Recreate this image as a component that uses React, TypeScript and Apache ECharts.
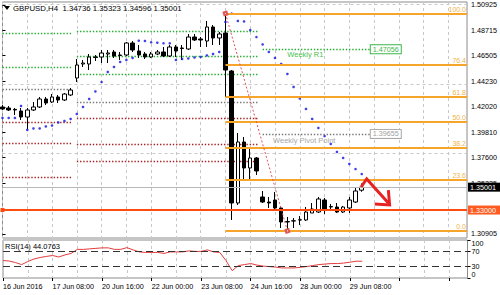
import React, { useEffect, useRef } from 'react';
import * as echarts from 'echarts';

const FONT = 'Liberation Sans, Arial, sans-serif';

const tradingDays = ['16 Jun', '17 Jun', '20 Jun', '21 Jun', '22 Jun', '23 Jun', '24 Jun', '27 Jun', '28 Jun', '29 Jun'];
const sessionHours = ['00:00', '04:00', '08:00', '12:00', '16:00', '20:00'];
const firstLabel = '16 Jun 2016';
const dataBars = 59;
const totalSlots = 76;

// [open, close, low, high]
const candles: number[][] = [
  [1.42008, 1.41833, 1.41746, 1.42183],
  [1.4192, 1.41746, 1.41658, 1.42095],
  [1.418, 1.41746, 1.41308, 1.4192],
  [1.41658, 1.41133, 1.40871, 1.4192],
  [1.41133, 1.41746, 1.40084, 1.4192],
  [1.41746, 1.42008, 1.41658, 1.42445],
  [1.42008, 1.42707, 1.4192, 1.42882],
  [1.42707, 1.42357, 1.42183, 1.42882],
  [1.42445, 1.42882, 1.42357, 1.43144],
  [1.42882, 1.4262, 1.42357, 1.43057],
  [1.4262, 1.43144, 1.42532, 1.43232],
  [1.43057, 1.43494, 1.42969, 1.43669],
  [1.44543, 1.4568, 1.44193, 1.46204],
  [1.45767, 1.45854, 1.45505, 1.46117],
  [1.45767, 1.46379, 1.45242, 1.46641],
  [1.46379, 1.46335, 1.46029, 1.46554],
  [1.46379, 1.46729, 1.45854, 1.46991],
  [1.46641, 1.46729, 1.45854, 1.46991],
  [1.46816, 1.46466, 1.46292, 1.46991],
  [1.46554, 1.4651, 1.46117, 1.46816],
  [1.46554, 1.47603, 1.46466, 1.4769],
  [1.47603, 1.46991, 1.46816, 1.47778],
  [1.46903, 1.46554, 1.46292, 1.47428],
  [1.46641, 1.46379, 1.46204, 1.46816],
  [1.46379, 1.46641, 1.46292, 1.46816],
  [1.46641, 1.46816, 1.46554, 1.46991],
  [1.46816, 1.46466, 1.46379, 1.47253],
  [1.46466, 1.47253, 1.46379, 1.47428],
  [1.47253, 1.46903, 1.46379, 1.47428],
  [1.47166, 1.47122, 1.46117, 1.47428],
  [1.47078, 1.48127, 1.46991, 1.4839],
  [1.48127, 1.47865, 1.47778, 1.4839],
  [1.47953, 1.47865, 1.47253, 1.48127],
  [1.47778, 1.49002, 1.47253, 1.49526],
  [1.49002, 1.4804, 1.47428, 1.49177],
  [1.4804, 1.4839, 1.47428, 1.48565],
  [1.48477, 1.45242, 1.42882, 1.5018],
  [1.45155, 1.33615, 1.32129, 1.45242],
  [1.33615, 1.38948, 1.3344, 1.39735],
  [1.38948, 1.36675, 1.35626, 1.39385],
  [1.36675, 1.37549, 1.35538, 1.38336],
  [1.37549, 1.36413, 1.36063, 1.37637],
  [1.3414, 1.33702, 1.33615, 1.34664],
  [1.33702, 1.33615, 1.33178, 1.3414],
  [1.33877, 1.33178, 1.33003, 1.34577],
  [1.33178, 1.31954, 1.31429, 1.33353],
  [1.31954, 1.31998, 1.3118, 1.32391],
  [1.32041, 1.3206, 1.31429, 1.32304],
  [1.32129, 1.3215, 1.31692, 1.32479],
  [1.32129, 1.32828, 1.32041, 1.33265],
  [1.32741, 1.3309, 1.32741, 1.33615],
  [1.32828, 1.33965, 1.32741, 1.3414],
  [1.33877, 1.3309, 1.32653, 1.34052],
  [1.33265, 1.33309, 1.33003, 1.33528],
  [1.33265, 1.32828, 1.32741, 1.33615],
  [1.32828, 1.33265, 1.32741, 1.33353],
  [1.33178, 1.33877, 1.32741, 1.3414],
  [1.33702, 1.34664, 1.33615, 1.34926],
  [1.34736, 1.35001, 1.34596, 1.35323],
];

const psar: number[] = [
  1.41046, 1.41046, 1.41046, 1.42095, 1.39997, 1.40128, 1.40128, 1.40303, 1.4039, 1.40653,
  1.40784, 1.40959, 1.41396, 1.42008, 1.42707, 1.43363, 1.44193, 1.45068, 1.45505, 1.45942,
  1.46117, 1.46292, 1.47804, 1.47778, 1.47664, 1.47629, 1.47577, 1.47577, 1.46117, 1.46204,
  1.46248, 1.46335, 1.46379, 1.4651, 1.46641, 1.46816, 1.49439, 1.5018, 1.4953, 1.49483,
  1.48739, 1.48127, 1.47472, 1.46816, 1.46292, 1.45767, 1.44893, 1.43756, 1.42751, 1.41833,
  1.40959, 1.40172, 1.39472, 1.38773, 1.38074, 1.37549, 1.37025, 1.36587, 1.3615,
];

const rsi: number[] = [
  46, 44.7, 40.7, 35.3, 43.3, 50, 54, 56.7, 59.3, 55.3, 60.7, 64.7,
  75.3, 75.3, 76.7, 78, 79.3, 79.3, 75.3, 75.3, 79.9, 74, 68.7, 67.3,
  67.3, 67.3, 64.7, 68.7, 68.7, 68.7, 71.3, 70, 70, 74, 68.7, 67.3,
  46, 19.3, 32.7, 35.3, 38, 34, 31.3, 30, 28.7, 26.5, 26.5, 26.5,
  28.1, 30, 32.7, 35.3, 36.7, 38, 38, 39.3, 41.5, 44.2, 44.0763,
];

const priceTicks = [1.50925, 1.48715, 1.46505, 1.4423, 1.4202, 1.3981, 1.376, 1.35335, 1.30905];
const priceGridLines = [1.50925, 1.4423, 1.376];
const priceMin = 1.30555;
const priceMax = 1.51187;
const rsiTicks = [0, 30, 70, 100];
const rsiLevels = [70, 30];

const fibHigh = 1.5018;
const fibLow = 1.3118;
const fibStartBar = 36;
const fibEndBar = 46;
const fibRatios = [100, 76.4, 61.8, 50, 38.2, 23.6, 0];

// weekly pivot segments: [startBar, endBar]
const week1Span = [0, 11.3];
const week1Resist = [1.48477, 1.45505];
const week1Pivot = [1.43582];
const week1Support = [1.40696, 1.3886, 1.35888];
const week2Span = [12, 41.2];
const week2Resist = [1.48652, 1.46467, 1.44893];
const week2Pivot = [1.42445];
const week2Support = [1.41046, 1.38773, 1.37287];
const week3Span = [42, 59.3];
const weeklyR1 = 1.47056;
const weeklyPP = 1.39655;

const bidPrice = 1.35001;
const levelLine = 1.33;

const arrowPath = [[57.9, 1.35014], [58.8, 1.35714], [62.3, 1.33615]];
const arrowHead = [[60.1, 1.33528], [62.5, 1.3344], [62.3, 1.34751]];

const categories: string[] = [];
for (let i = 0; i < totalSlots; i++) {
  if (i < dataBars) {
    const d = tradingDays[Math.floor(i / 6)];
    const h = sessionHours[i % 6];
    categories.push(i === 0 ? firstLabel : `${d} ${h}`);
  } else {
    categories.push(`+${i}`);
  }
}

const GREEN = '#22b030';
const GRAY = '#777777';
const RED = '#a82424';
const FIB = '#f6a42a';

function seg(span: number[], v: number, color: string) {
  return [
    { coord: [span[0], v], lineStyle: { color, type: [1.4, 1.8], width: 1.3 } },
    { coord: [span[1], v] },
  ];
}

export default function App() {
  const ref = useRef<HTMLDivElement>(null);
  useEffect(() => {
    if (!ref.current) return;
    const chart = echarts.init(ref.current, undefined, { renderer: 'svg' });

    const pivotSegs: any[] = [];
    week1Resist.forEach((v) => pivotSegs.push(seg(week1Span, v, GREEN)));
    week1Pivot.forEach((v) => pivotSegs.push(seg(week1Span, v, GRAY)));
    week1Support.forEach((v) => pivotSegs.push(seg(week1Span, v, RED)));
    week2Resist.forEach((v) => pivotSegs.push(seg(week2Span, v, GREEN)));
    week2Pivot.forEach((v) => pivotSegs.push(seg(week2Span, v, GRAY)));
    week2Support.forEach((v) => pivotSegs.push(seg(week2Span, v, RED)));
    priceGridLines.forEach((v) =>
      pivotSegs.push({ yAxis: v, lineStyle: { color: '#c8c8c8', type: [3, 3], width: 1 } })
    );

    const fibLines = fibRatios.map((r) => {
      const v = fibLow + (r / 100) * (fibHigh - fibLow);
      return [
        {
          coord: [fibStartBar, v],
          lineStyle: { color: FIB, width: 2, type: 'solid' },
          label: {
            show: true,
            position: 'insideEndTop',
            formatter: r.toFixed(1),
            color: '#f2b24a',
            fontSize: 7,
            fontFamily: FONT,
            distance: 1,
          },
        },
        { coord: [totalSlots - 1, v] },
      ];
    });

    const objectLines: any[] = [
      ...fibLines,
      [
        {
          coord: [week3Span[0], weeklyR1],
          lineStyle: { color: GREEN, type: [1.4, 1.8], width: 1.3 },
          label: {
            show: true,
            position: 'end',
            distance: 1,
            formatter: weeklyR1.toFixed(5),
            color: '#3cb64a',
            fontSize: 7.2,
            fontFamily: FONT,
            borderColor: '#3cb64a',
            borderWidth: 1,
            backgroundColor: '#fff',
            padding: [1, 2, 0, 2],
          },
        },
        { coord: [week3Span[1], weeklyR1] },
      ],
      [
        {
          coord: [week3Span[0], weeklyPP],
          lineStyle: { color: GRAY, type: [1.4, 1.8], width: 1.3 },
          label: {
            show: true,
            position: 'end',
            distance: 1,
            formatter: weeklyPP.toFixed(5),
            color: '#a0a0a0',
            fontSize: 7.2,
            fontFamily: FONT,
            borderColor: '#a8a8a8',
            borderWidth: 1,
            backgroundColor: '#fff',
            padding: [1, 2, 0, 2],
          },
        },
        { coord: [week3Span[1], weeklyPP] },
      ],
      [
        {
          coord: [fibStartBar, fibHigh],
          lineStyle: { color: '#e05555', type: [2, 2], width: 1 },
          symbol: 'emptyRect',
          symbolSize: 3,
        },
        { coord: [fibEndBar, fibLow], symbol: 'emptyRect', symbolSize: 3 },
      ],
      {
        yAxis: bidPrice,
        lineStyle: { color: '#b8b8b8', type: 'solid', width: 1 },
        label: {
          show: true,
          position: 'end',
          distance: 1,
          formatter: bidPrice.toFixed(5),
          color: '#fff',
          backgroundColor: '#000',
          fontSize: 7.2,
          fontFamily: FONT,
          padding: [1, 4, 1, 2],
        },
      },
      {
        yAxis: levelLine,
        lineStyle: { color: '#ff4a10', type: 'solid', width: 2 },
        symbol: ['emptyRect', 'emptyRect'],
        symbolSize: 4,
        label: {
          show: true,
          position: 'end',
          distance: 1,
          formatter: levelLine.toFixed(5),
          color: '#fff',
          backgroundColor: '#ff5a1f',
          fontSize: 7.2,
          fontFamily: FONT,
          padding: [1, 4, 1, 2],
        },
      },
    ];

    const option: any = {
      animation: false,
      backgroundColor: '#fff',
      textStyle: { fontFamily: FONT },
      title: [
        {
          text: 'GBPUSD,H4  1.34736 1.35323 1.34596 1.35001',
          left: 13,
          top: 4,
          padding: 0,
          textStyle: { fontSize: 7.8, fontWeight: 'normal', color: '#000', fontFamily: FONT },
        },
        {
          text: 'RSI(14) 44.0763',
          left: 5,
          top: 242,
          padding: 0,
          textStyle: { fontSize: 7.5, fontWeight: 'normal', color: '#000', fontFamily: FONT },
        },
      ],
      graphic: [
        {
          type: 'polygon',
          shape: { points: [[4, 6], [10, 6], [7, 10]] },
          style: { fill: '#000' },
        },
      ],
      grid: [
        { left: 2.5, top: 2, width: 465, height: 236, show: true, borderColor: '#8c8c8c', borderWidth: 1 },
        { left: 2.5, top: 240, width: 465, height: 38, show: true, borderColor: '#8c8c8c', borderWidth: 1 },
      ],
      xAxis: [
        {
          type: 'category',
          gridIndex: 0,
          data: categories,
          boundaryGap: false,
          axisLine: { show: false },
          axisTick: { show: false },
          axisLabel: { show: false },
          splitLine: { show: true, interval: 3, lineStyle: { color: '#c8c8c8', type: [3, 3], width: 1 } },
        },
        {
          type: 'category',
          gridIndex: 1,
          data: categories,
          boundaryGap: false,
          axisLine: { show: false },
          axisTick: { show: true, interval: 7, length: 3, lineStyle: { color: '#000' } },
          axisLabel: {
            show: true,
            interval: 7,
            align: 'left',
            fontSize: 7.2,
            color: '#000',
            margin: 5,
            fontFamily: FONT,
            formatter: (v: string, i: number) => (i < dataBars ? v : ''),
          },
          splitLine: { show: true, interval: 3, lineStyle: { color: '#c8c8c8', type: [3, 3], width: 1 } },
        },
        { type: 'value', gridIndex: 0, min: 0, max: totalSlots - 1, show: false },
      ],
      yAxis: [
        {
          type: 'value',
          gridIndex: 0,
          position: 'right',
          min: priceMin,
          max: priceMax,
          axisLine: { show: false },
          axisTick: { show: true, customValues: priceTicks, length: 3, lineStyle: { color: '#000' } },
          axisLabel: {
            customValues: priceTicks,
            formatter: (v: number) => v.toFixed(5),
            fontSize: 7.2,
            color: '#000',
            margin: 4,
            fontFamily: FONT,
          },
          splitLine: { show: false },
        },
        {
          type: 'value',
          gridIndex: 1,
          position: 'right',
          min: 0,
          max: 100,
          axisLine: { show: false },
          axisTick: { show: true, customValues: rsiTicks, length: 3, lineStyle: { color: '#000' } },
          axisLabel: {
            customValues: rsiTicks,
            fontSize: 7.2,
            color: '#000',
            margin: 4,
            fontFamily: FONT,
            verticalAlignMinLabel: 'bottom',
            verticalAlignMaxLabel: 'top',
          },
          splitLine: { show: false },
        },
      ],
      series: [
        {
          name: 'pivots',
          type: 'line',
          xAxisIndex: 2,
          yAxisIndex: 0,
          data: [],
          silent: true,
          markLine: { z: 1, silent: true, symbol: 'none', animation: false, label: { show: false }, data: pivotSegs },
        },
        {
          name: 'GBPUSD',
          type: 'candlestick',
          xAxisIndex: 0,
          yAxisIndex: 0,
          z: 2,
          barWidth: 4,
          data: candles,
          itemStyle: { color: '#fff', color0: '#000', borderColor: '#000', borderColor0: '#000', borderWidth: 1 },
        },
        {
          name: 'PSAR',
          type: 'scatter',
          xAxisIndex: 0,
          yAxisIndex: 0,
          z: 3,
          symbol: 'circle',
          symbolSize: 2.6,
          data: psar,
          itemStyle: { color: '#1010e0' },
        },
        {
          name: 'objects',
          type: 'line',
          xAxisIndex: 2,
          yAxisIndex: 0,
          data: [],
          silent: true,
          markLine: { z: 5, silent: true, symbol: 'none', animation: false, label: { show: false }, data: objectLines },
          markPoint: {
            z: 6,
            silent: true,
            symbol: 'circle',
            symbolSize: 1,
            itemStyle: { color: 'rgba(0,0,0,0)' },
            data: [
              {
                coord: [45.9, 1.46597],
                label: { show: true, position: 'right', distance: 0, formatter: 'Weekly R1', color: '#4cc04c', fontSize: 7.5, fontFamily: FONT },
              },
              {
                coord: [43.6, 1.39079],
                label: { show: true, position: 'right', distance: 0, formatter: 'Weekly Pivot Point', color: '#a8a8a8', fontSize: 7.5, fontFamily: FONT },
              },
            ],
          },
        },
        {
          name: 'arrow',
          type: 'lines',
          coordinateSystem: 'cartesian2d',
          xAxisIndex: 2,
          yAxisIndex: 0,
          polyline: true,
          z: 7,
          lineStyle: { color: '#e82222', width: 3, opacity: 1 },
          data: [{ coords: arrowPath }, { coords: arrowHead }],
        },
        {
          name: 'RSI(14)',
          type: 'line',
          xAxisIndex: 1,
          yAxisIndex: 1,
          data: rsi,
          symbol: 'none',
          lineStyle: { color: '#e23c3c', width: 1 },
          markLine: {
            silent: true,
            symbol: 'none',
            label: { show: false },
            lineStyle: { color: '#333', type: [7, 4], width: 1 },
            data: rsiLevels.map((v) => ({ yAxis: v })),
          },
        },
      ],
    };

    chart.setOption(option);
    return () => chart.dispose();
  }, []);

  return <div ref={ref} style={{ position: 'fixed', left: 0, top: 0, width: 500, height: 295 }} />;
}
